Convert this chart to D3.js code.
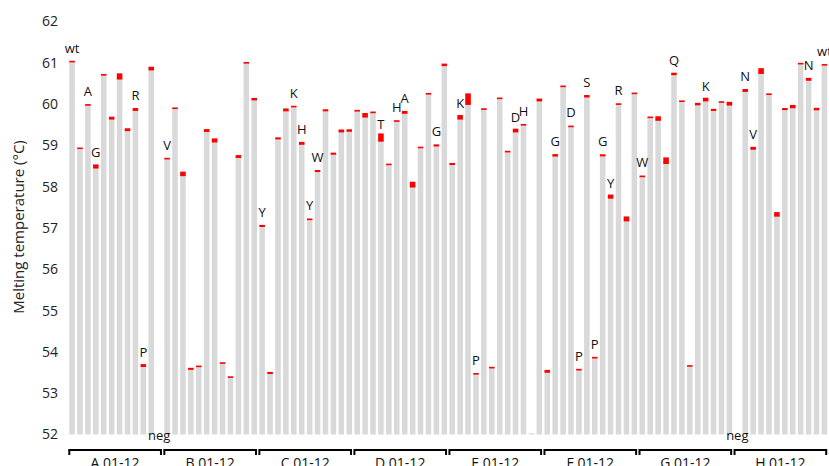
<!DOCTYPE html>
<html>
<head>
<meta charset="utf-8">
<script src="https://cdn.jsdelivr.net/npm/d3@7"></script>
<style>
  body { margin: 0; background: #fff; }
  svg { display: block; font-family: "Open Sans", "Liberation Sans", sans-serif; }
</style>
</head>
<body>
<svg id="chart" width="829" height="466"></svg>
<script>
// ---- data ----
const groups = ["A", "B", "C", "D", "E", "F", "G", "H"];
const wells = ["01","02","03","04","05","06","07","08","09","10","11","12"];

// melting temperature (°C) per well, row by row (52 = no signal)
const tmA = [61.03, 58.93, 59.98, 58.49, 60.71, 59.66, 60.67, 59.38, 59.87, 53.67, 60.86, 52.00];
const tmB = [58.68, 59.90, 58.31, 53.59, 53.65, 59.36, 59.12, 53.73, 53.39, 58.73, 61.00, 60.12];
const tmC = [57.05, 53.49, 59.17, 59.86, 59.94, 59.05, 57.21, 58.38, 59.85, 58.80, 59.35, 59.36];
const tmD = [59.84, 59.73, 59.80, 59.19, 58.54, 59.59, 59.80, 58.05, 58.95, 60.25, 59.00, 60.95];
const tmE = [58.55, 59.68, 60.12, 53.47, 59.88, 53.62, 60.14, 58.85, 59.36, 59.50, 52.03, 60.10];
const tmF = [53.53, 58.76, 60.43, 59.46, 53.57, 60.19, 53.86, 58.76, 57.76, 60.00, 57.22, 60.26];
const tmG = [58.25, 59.68, 59.65, 58.63, 60.73, 60.07, 53.66, 60.00, 60.11, 59.86, 60.05, 60.01];
const tmH = [52.00, 60.33, 58.93, 60.80, 60.24, 57.33, 59.88, 59.94, 60.98, 60.60, 59.88, 60.95];

// error (± °C) per well
const errA = [0.02, 0.012, 0.02, 0.05, 0.02, 0.035, 0.075, 0.035, 0.035, 0.035, 0.045, 0];
const errB = [0.02, 0.012, 0.055, 0.025, 0.015, 0.035, 0.05, 0.012, 0.012, 0.035, 0.02, 0.03];
const errC = [0.025, 0.025, 0.025, 0.035, 0.012, 0.035, 0.02, 0.025, 0.025, 0.025, 0.035, 0.03];
const errD = [0.02, 0.055, 0.02, 0.1, 0.012, 0.02, 0.035, 0.07, 0.02, 0.02, 0.025, 0.03];
const errE = [0.025, 0.055, 0.14, 0.012, 0.02, 0.02, 0.015, 0.02, 0.045, 0.02, 0, 0.035];
const errF = [0.035, 0.03, 0.02, 0.02, 0.02, 0.03, 0.02, 0.025, 0.05, 0.02, 0.06, 0.012];
const errG = [0.02, 0.015, 0.055, 0.08, 0.03, 0.015, 0.015, 0.03, 0.045, 0.025, 0.008, 0.045];
const errH = [0, 0.035, 0.035, 0.07, 0.02, 0.055, 0.025, 0.04, 0.015, 0.035, 0.03, 0.012];

// annotation letters above bars
const labA = ["wt", "", "A", "G", "", "", "", "", "R", "P", "", ""];
const labB = ["V", "", "", "", "", "", "", "", "", "", "", ""];
const labC = ["Y", "", "", "", "K", "H", "Y", "W", "", "", "", ""];
const labD = ["", "", "", "T", "", "H", "A", "", "", "", "G", ""];
const labE = ["", "K", "", "P", "", "", "", "", "D", "H", "", ""];
const labF = ["", "G", "", "D", "P", "S", "P", "G", "Y", "R", "", ""];
const labG = ["W", "", "", "", "Q", "", "", "", "K", "", "", ""];
const labH = ["", "N", "V", "", "", "", "", "", "", "N", "", "wt"];

// negative control wells
const negWells = ["A12", "H01"];

const yTicks = [52, 53, 54, 55, 56, 57, 58, 59, 60, 61, 62];
const yTitle = "Melting temperature (°C)";

// ---- build table ----
const tmRows = [tmA, tmB, tmC, tmD, tmE, tmF, tmG, tmH];
const errRows = [errA, errB, errC, errD, errE, errF, errG, errH];
const labRows = [labA, labB, labC, labD, labE, labF, labG, labH];
const data = [];
groups.forEach((g, gi) => wells.forEach((w, wi) => {
  data.push({ id: g + w, group: g, tm: tmRows[gi][wi], err: errRows[gi][wi], lab: labRows[gi][wi] });
}));

// ---- chart ----
const svg = d3.select("#chart");
const x = d3.scaleBand().domain(data.map(d => d.id)).range([68.1, 828.4]).paddingInner(0.3).paddingOuter(0.15);
const y = d3.scaleLinear().domain([52, 62]).range([434.5, 21.5]);

// y axis (labels only)
const yAxis = svg.append("g").attr("transform", "translate(61,0)")
  .call(d3.axisLeft(y).tickValues(yTicks).tickSize(0).tickPadding(3).tickFormat(d3.format("d")));
yAxis.select(".domain").remove();
yAxis.selectAll("text").attr("font-size", 14).attr("fill", "#222").style("font-family", "'Open Sans', sans-serif");

svg.append("text")
  .attr("transform", "translate(24,227) rotate(-90)")
  .attr("text-anchor", "middle")
  .attr("font-size", 15)
  .attr("fill", "#222")
  .text(yTitle);

// bars
svg.append("g").selectAll("rect").data(data).join("rect")
  .attr("x", d => x(d.id))
  .attr("width", x.bandwidth())
  .attr("y", d => y(d.tm))
  .attr("height", d => y(52) - y(d.tm))
  .attr("fill", "#d9d9d9");

// error marks
const errH_px = d => Math.max(1.6, y(d.tm - d.err) - y(d.tm + d.err));
svg.append("g").selectAll("rect").data(data.filter(d => d.err > 0)).join("rect")
  .attr("x", d => x(d.id))
  .attr("width", x.bandwidth())
  .attr("y", d => y(d.tm) - errH_px(d) / 2)
  .attr("height", d => errH_px(d))
  .attr("fill", "#ff0000");

// annotation letters
svg.append("g").selectAll("text").data(data.filter(d => d.lab)).join("text")
  .attr("x", d => x(d.id) + x.bandwidth() / 2)
  .attr("y", d => y(d.tm) - 9)
  .attr("text-anchor", "middle")
  .attr("font-size", 13)
  .attr("fill", "#111")
  .text(d => d.lab);

// neg labels
svg.append("g").selectAll("text").data(negWells).join("text")
  .attr("x", d => x(d) + x.bandwidth() / 2)
  .attr("y", y(52))
  .attr("dy", "0.4em")
  .attr("text-anchor", "middle")
  .attr("font-size", 13)
  .attr("fill", "#111")
  .text("neg");

// group brackets
const br = svg.append("g");
groups.forEach(g => {
  const x0 = x(g + "01");
  const x1 = x(g + "12") + x.bandwidth() - 1;
  br.append("path")
    .attr("d", `M${x0},455 V450 H${x1} V455`)
    .attr("fill", "none")
    .attr("stroke", "#000")
    .attr("stroke-width", 2);
  br.append("text")
    .attr("x", (x0 + x1) / 2)
    .attr("y", 468)
    .attr("text-anchor", "middle")
    .attr("font-size", 14)
    .attr("fill", "#111")
    .text(g + " 01-12");
});
</script>
</body>
</html>
